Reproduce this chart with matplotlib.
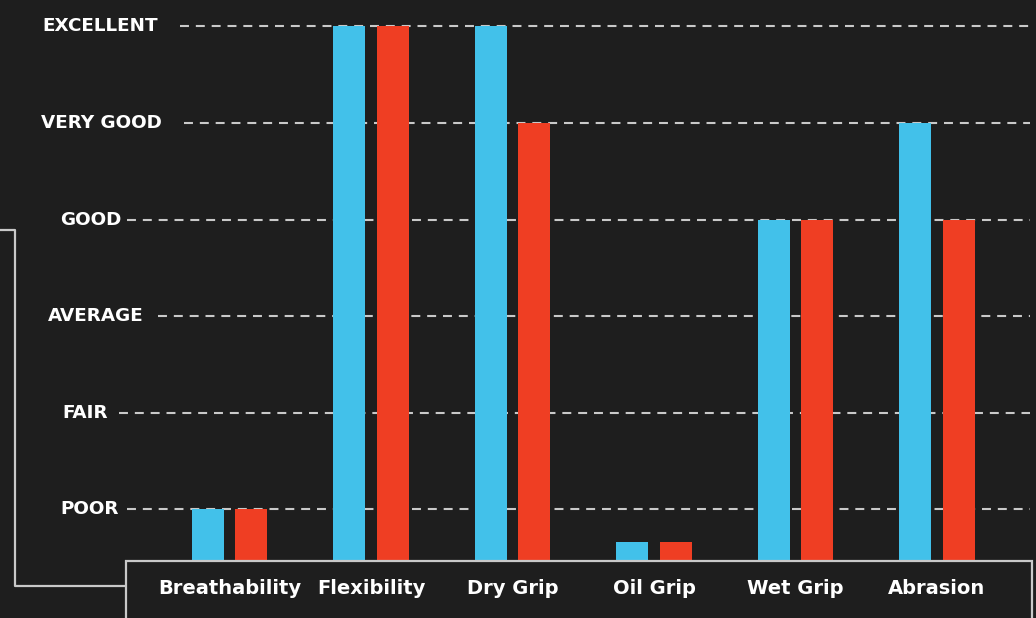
import matplotlib
matplotlib.use("Agg")
import matplotlib.pyplot as plt
from matplotlib.patches import Rectangle
from matplotlib.lines import Line2D
import numpy as np

# data
categories = ['Breathability', 'Flexibility', 'Dry Grip', 'Oil Grip', 'Wet Grip', 'Abrasion']
blue_vals = [1, 6, 6, 0.66, 4, 5]
red_vals = [1, 6, 5, 0.66, 4, 4]
levels = [1, 2, 3, 4, 5, 6]
level_names = ['POOR', 'FAIR', 'AVERAGE', 'GOOD', 'VERY GOOD', 'EXCELLENT']

# style
W, H = 1036, 618
bg = '#1e1e1e'
blue = '#42c1ea'
red = '#ef3e23'
line_col = '#c9c9c9'
font = ['DejaVu Sans']
label_left = [60, 62, 48, 60, 41, 42]      # px, where each level label starts
grid_start = [127, 119, 158, 127, 184, 180]  # px, where each dashed line starts

fig = plt.figure(figsize=(W / 100, H / 100), dpi=100, facecolor=bg)
ax = fig.add_axes([0, 0, 1, 1])
ax.set_facecolor(bg)
ax.set_xlim(-1.622, 5.700)
ax.set_ylim(-0.124, 6.273)
ax.axis('off')

x = np.arange(len(categories))
width = 0.226
off = 0.155
ax.bar(x - off, blue_vals, width=width, color=blue, zorder=3)
ax.bar(x + off, red_vals, width=width, color=red, zorder=3)

# dashed level lines + labels
for lv, name, lx, gx in zip(levels, level_names, label_left, grid_start):
    ax.axhline(lv, xmin=gx / W, xmax=1030 / W, color=line_col, lw=1.5,
               linestyle=(0, (4.3, 3.3)), zorder=2)
    ax.text(lx / W, lv, name, transform=ax.get_yaxis_transform(),
            ha='left', va='center', color='white', fontsize=13.2,
            fontweight='bold', family=font)

# box under the bars holding the category names
box = Rectangle((126 / W, -0.02), (1032 - 126) / W, (618 - 561) / H + 0.02,
                transform=fig.transFigure, facecolor=bg, edgecolor=line_col,
                lw=1.6, zorder=5)
fig.patches.append(box)

# bracket on the left
fig.lines.append(Line2D([0, 15 / W, 15 / W, 126 / W],
                        [1 - 230 / H, 1 - 230 / H, 1 - 586 / H, 1 - 586 / H],
                        transform=fig.transFigure, color=line_col, lw=1.6))

# category names sit on top of the box
name_x = ax.transData.transform(np.column_stack([x, np.zeros(len(x))]))[:, 0] / W
for nx, cat in zip(name_x, categories):
    fig.text(nx, (618 - 588) / H, cat, ha='center', va='center', color='white',
             fontsize=14, fontweight='bold', family=font, zorder=6)

fig.savefig('out.png', dpi=100, facecolor=bg)
